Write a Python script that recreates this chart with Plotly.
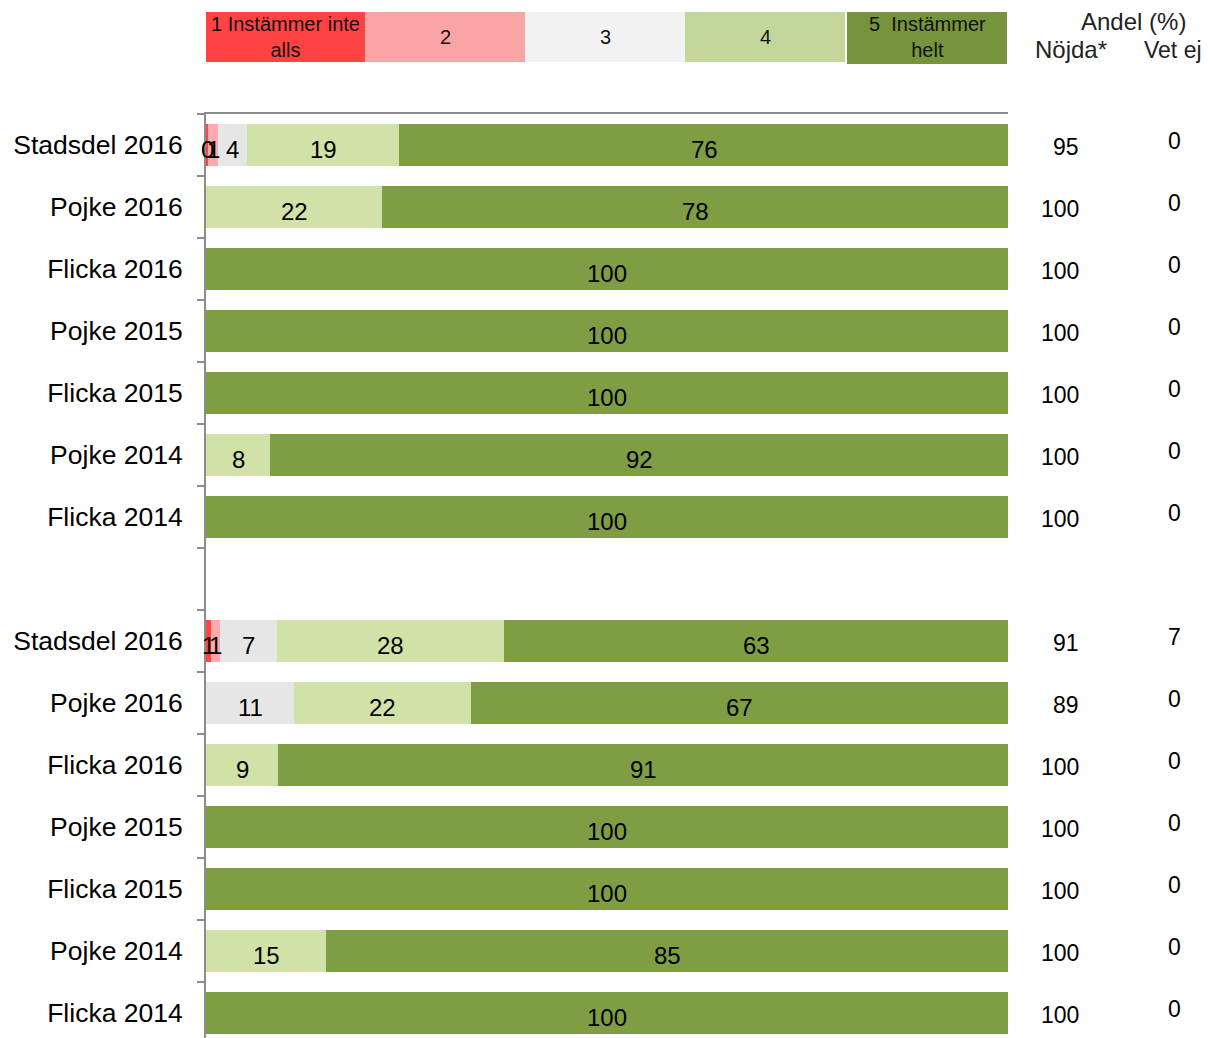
import plotly.graph_objects as go

# ---------------- data ----------------
group_rows = ["Stadsdel 2016", "Pojke 2016", "Flicka 2016", "Pojke 2015",
              "Flicka 2015", "Pojke 2014", "Flicka 2014"]
row_labels = group_rows + [""] + group_rows

score_names = ["1 Instämmer inte<br>alls", "2", "3", "4", "5  Instämmer<br>helt"]

s1 = [0.3, 0, 0, 0, 0, 0, 0, None, 0.6, 0, 0, 0, 0, 0, 0]
s2 = [1.2, 0, 0, 0, 0, 0, 0, None, 1.2, 0, 0, 0, 0, 0, 0]
s3 = [3.6, 0, 0, 0, 0, 0, 0, None, 7, 11, 0, 0, 0, 0, 0]
s4 = [19, 22, 0, 0, 0, 8, 0, None, 28.4, 22, 9, 0, 0, 15, 0]
s5 = [76, 78, 100, 100, 100, 92, 100, None, 62.8, 67, 91, 100, 100, 85, 100]

nojda = [95, 100, 100, 100, 100, 100, 100, None, 91, 89, 100, 100, 100, 100, 100]
vet_ej = [0, 0, 0, 0, 0, 0, 0, None, 7, 0, 0, 0, 0, 0, 0]

# ---------------- styles ----------------
bar_colors = ["#FF4444", "#FFAAAA", "#E6E6E6", "#D0E2A8", "#7F9E44"]
legend_colors = ["#FF4343", "#FAA5A5", "#F2F2F2", "#C4D79B", "#77933C"]
FONT = "Liberation Sans, Arial, sans-serif"

OFF = 8  # page body margin
W, H = 1212 - OFF, 1038 - OFF
L, T = 206 - OFF, 114 - OFF
R = W - (1008 - OFF)
B = 0
PW, PH = W - L - R, H - T - B
PITCH = 62


def px_x(px):
    return (px - OFF - L) / PW


def px_y(py):
    return (H - B - (py - OFF)) / PH


series = [s1, s2, s3, s4, s5]
ypos = list(range(len(row_labels)))

fig = go.Figure()
for vals, col in zip(series, bar_colors):
    fig.add_trace(go.Bar(
        x=vals, y=ypos, orientation="h", width=0.68,
        marker=dict(color=col, line=dict(width=0)),
        showlegend=False, hoverinfo="skip"))

annotations = []
# segment labels
for i in ypos:
    if s5[i] is None:
        continue
    start = 0
    for vals in series:
        v = vals[i]
        if v and v > 0:
            annotations.append(dict(
                x=start + v / 2, y=i, xref="x", yref="y",
                xanchor="center", yanchor="middle",
                text=str(int(round(v))), showarrow=False,
                font=dict(family=FONT, size=24, color="black"),
                yshift=-4))
        start += v

# right-hand columns
for i in ypos:
    if nojda[i] is None:
        continue
    annotations.append(dict(
        x=px_x(1081), y=i, xref="paper", yref="y", xanchor="right", yanchor="middle",
        text=str(nojda[i]), showarrow=False,
        font=dict(family=FONT, size=23, color="black"), yshift=-2))
    annotations.append(dict(
        x=px_x(1174), y=i, xref="paper", yref="y", xanchor="center", yanchor="middle",
        text=str(vet_ej[i]), showarrow=False,
        font=dict(family=FONT, size=23, color="black"), yshift=4))

# headers
for txt, cx, cy, fs in [("Andel (%)", 1133, 22, 24), ("Nöjda*", 1071, 50, 24),
                        ("Vet ej", 1173, 50, 23)]:
    annotations.append(dict(x=px_x(cx), y=px_y(cy), xref="paper", yref="paper",
                            xanchor="center", yanchor="middle",
                            text=txt, showarrow=False,
                            font=dict(family=FONT, size=fs, color="#222")))

# legend boxes
shapes = []
box_edges = [(206, 365, 62), (365, 525, 62), (525, 685, 62), (685, 845, 62), (847, 1007, 64)]
for (x0, x1, yb), col, name in zip(box_edges, legend_colors, score_names):
    shapes.append(dict(type="rect", xref="paper", yref="paper",
                       x0=px_x(x0), x1=px_x(x1), y0=px_y(yb), y1=px_y(12),
                       fillcolor=col, line=dict(width=0), layer="above"))
    annotations.append(dict(x=px_x((x0 + x1) / 2), y=px_y(37), xref="paper", yref="paper",
                            xanchor="center", yanchor="middle",
                            text=name, showarrow=False,
                            font=dict(family=FONT, size=20, color="#111")))

fig.update_layout(
    width=W, height=H,
    margin=dict(l=L, r=R, t=T, b=B, pad=0),
    barmode="stack", bargap=0,
    plot_bgcolor="white", paper_bgcolor="white",
    font=dict(family=FONT, size=22, color="black"),
    annotations=annotations, shapes=shapes,
    xaxis=dict(range=[0, 100], side="top", showline=True, linecolor="#8C8C8C",
               linewidth=2, showticklabels=False, ticks="", showgrid=False,
               zeroline=False, fixedrange=True),
    yaxis=dict(range=[PH / PITCH - 0.5, -0.5], tickmode="array",
               tickvals=[i for i in ypos if row_labels[i]],
               ticktext=[row_labels[i] for i in ypos if row_labels[i]],
               ticks="", showline=True, linecolor="#8C8C8C", linewidth=2,
               showgrid=False, zeroline=False, ticklabelstandoff=16,
               tickfont=dict(family=FONT, size=26.5, color="black"),
               minor=dict(tickmode="array",
                          tickvals=[i + 0.5 for i in range(-1, len(row_labels))],
                          ticks="outside", ticklen=7, tickcolor="#8C8C8C",
                          tickwidth=2, showgrid=False),
               fixedrange=True),
)

fig.write_html("out.html")
